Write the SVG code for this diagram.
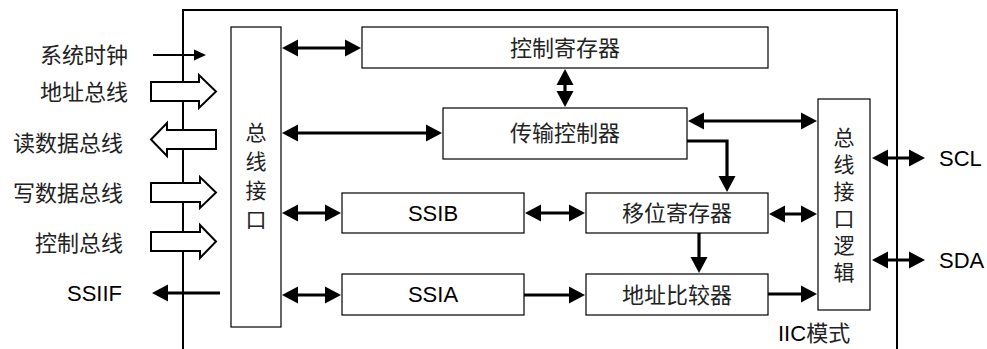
<svg xmlns="http://www.w3.org/2000/svg" width="987" height="349" viewBox="0 0 987 349">
<style>
.box{fill:#fff;stroke:#000;stroke-width:1.2}
.frame{fill:none;stroke:#000;stroke-width:2}
.cjk{font-family:"Noto Sans CJK SC","Liberation Sans",sans-serif;font-size:22px;fill:#222}
.vert{font-family:"Noto Sans CJK SC","Liberation Sans",sans-serif;font-size:21px;fill:#222;writing-mode:vertical-rl;text-anchor:middle}
.lat{font-family:"Liberation Sans","Noto Sans CJK SC",sans-serif;font-size:22px;fill:#000}
.mid{text-anchor:middle}
.end{text-anchor:end}
.con{fill:none;stroke:#000;stroke-width:3.2}
.thin{fill:none;stroke:#000;stroke-width:2}
.hollow{fill:#fff;stroke:#000;stroke-width:2;stroke-linejoin:miter}
</style>
<defs>
<marker id="ah" markerUnits="userSpaceOnUse" markerWidth="16" markerHeight="17" refX="12" refY="8.5" orient="auto-start-reverse" overflow="visible">
<path d="M0,0 L16,8.5 L0,17 Z" fill="#000"/>
</marker>
<marker id="ahs" markerUnits="userSpaceOnUse" markerWidth="12" markerHeight="11" refX="10" refY="5.5" orient="auto" overflow="visible">
<path d="M0,0 L12,5.5 L0,11 Z" fill="#000"/>
</marker>
</defs>
<rect width="987" height="349" fill="#fff"/>
<path class="frame" d="M183,349 V10 H897 V349"/>

<g id="inputs">
<path class="hollow" d="M151,82 H199 V75 L216,91.5 L199,108 V101 H151 Z"/>
<path class="hollow" d="M216,130 H167 V123 L151,139.5 L167,156 V149 H216 Z"/>
<path class="hollow" d="M151,183 H200 V177 L216,192.5 L200,208 V202 H151 Z"/>
<path class="hollow" d="M151,232 H200 V225 L216,241.5 L200,258 V251 H151 Z"/>
<text class="cjk end" x="128" y="63">系统时钟</text>
<text class="cjk end" x="128" y="100">地址总线</text>
<text class="cjk end" x="123" y="151">读数据总线</text>
<text class="cjk end" x="123" y="201">写数据总线</text>
<text class="cjk end" x="123" y="251">控制总线</text>
<text class="lat end" x="122" y="301">SSIIF</text>
</g>

<g id="bus-interface">
<rect class="box" x="231" y="27" width="50" height="300"/>
<text class="vert" x="256" y="180" letter-spacing="8">总线接口</text>
</g>

<g id="control-register">
<rect class="box" x="362" y="27" width="406" height="41"/>
<text class="cjk mid" x="565" y="56">控制寄存器</text>
</g>

<g id="transfer-controller">
<rect class="box" x="443" y="108" width="244" height="51"/>
<text class="cjk mid" x="565" y="141">传输控制器</text>
</g>

<g id="ssib">
<rect class="box" x="342" y="193" width="182" height="40"/>
<text class="lat mid" x="433" y="221">SSIB</text>
</g>

<g id="shift-register">
<rect class="box" x="586" y="193" width="182" height="40"/>
<text class="cjk mid" x="677" y="221">移位寄存器</text>
</g>

<g id="ssia">
<rect class="box" x="342" y="274" width="182" height="41"/>
<text class="lat mid" x="433" y="302">SSIA</text>
</g>

<g id="address-comparator">
<rect class="box" x="586" y="274" width="182" height="41"/>
<text class="cjk mid" x="677" y="303">地址比较器</text>
</g>

<g id="bus-interface-logic">
<rect class="box" x="818" y="99" width="52" height="211"/>
<text class="vert" x="844" y="208" letter-spacing="6">总线接口逻辑</text>
</g>

<g id="labels">
<text class="lat" x="939" y="166">SCL</text>
<text class="lat" x="939" y="268">SDA</text>
<text class="lat" x="778" y="341">IIC<tspan style="font-family:'Noto Sans CJK SC',sans-serif;fill:#222">模式</tspan></text>
</g>

<g id="connectors">
<path class="thin" d="M153,55 H204" marker-end="url(#ahs)"/>
<path class="con" d="M156,293 H220" marker-start="url(#ah)"/>
<path class="con" d="M286,48 H357" marker-start="url(#ah)" marker-end="url(#ah)"/>
<path class="con" d="M565,73 V103" marker-start="url(#ah)" marker-end="url(#ah)"/>
<path class="con" d="M286,133 H438" marker-start="url(#ah)" marker-end="url(#ah)"/>
<path class="con" d="M692,121 H813" marker-start="url(#ah)" marker-end="url(#ah)"/>
<path class="con" d="M687,141 H727 V188" marker-end="url(#ah)"/>
<path class="con" d="M286,213 H337" marker-start="url(#ah)" marker-end="url(#ah)"/>
<path class="con" d="M529,213 H581" marker-start="url(#ah)" marker-end="url(#ah)"/>
<path class="con" d="M773,214 H813" marker-start="url(#ah)" marker-end="url(#ah)"/>
<path class="con" d="M699,233 V269" marker-end="url(#ah)"/>
<path class="con" d="M286,295 H337" marker-start="url(#ah)" marker-end="url(#ah)"/>
<path class="con" d="M524,295 H581" marker-end="url(#ah)"/>
<path class="con" d="M768,294 H813" marker-end="url(#ah)"/>
<path class="con" d="M876,158 H921" marker-start="url(#ah)" marker-end="url(#ah)"/>
<path class="con" d="M876,260 H921" marker-start="url(#ah)" marker-end="url(#ah)"/>
</g>
</svg>
